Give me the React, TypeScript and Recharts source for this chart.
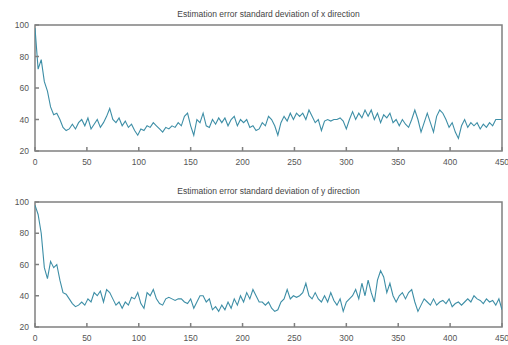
import { LineChart, Line, XAxis, YAxis, ReferenceArea } from "recharts";

const STEP = 3;
const X_TICKS = [0, 50, 100, 150, 200, 250, 300, 350, 400, 450];
const Y_TICKS = [20, 40, 60, 80, 100];

const TITLE_X = "Estimation error standard deviation of x direction";
const TITLE_Y = "Estimation error standard deviation of y direction";

// one value every 3 samples
const errX = [
  98, 72, 78, 64, 58, 48, 43, 44, 40, 35,
  33, 34, 37, 34, 38, 40, 36, 41, 34, 37,
  40, 35, 38, 42, 47, 40, 38, 41, 36, 39,
  35, 37, 33, 30, 34, 33, 36, 35, 38, 36,
  34, 32, 35, 34, 36, 35, 38, 36, 42, 44,
  36, 30, 40, 38, 44, 36, 35, 40, 37, 41,
  38, 41, 36, 40, 42, 36, 40, 38, 40, 35,
  36, 33, 34, 38, 36, 42, 40, 36, 30, 38,
  42, 39, 44, 40, 44, 42, 44, 40, 46, 42,
  38, 40, 33, 39, 40, 39, 40, 40, 41, 39,
  34, 40, 45, 40, 44, 41, 46, 42, 46, 40,
  44, 38, 43, 41, 44, 38, 40, 36, 40, 37,
  35, 40, 46, 40, 32, 38, 44, 38, 32, 42,
  46, 44, 40, 35, 38, 32, 28, 36, 40, 35,
  38, 36, 38, 34, 37, 35, 38, 36, 40, 40,
  40,
];

const errY = [
  98, 92, 80, 58, 51, 62, 58, 60, 50, 42,
  41, 38, 35, 33, 34, 36, 34, 38, 36, 42,
  40, 43, 36, 44, 42, 38, 34, 36, 32, 36,
  34, 39, 38, 42, 35, 32, 42, 40, 44, 38,
  35, 34, 38, 39, 38, 37, 38, 38, 36, 35,
  38, 32, 36, 40, 40, 36, 38, 31, 33, 30,
  34, 31, 36, 32, 38, 34, 40, 36, 42, 38,
  44, 40, 36, 36, 34, 36, 32, 30, 31, 36,
  38, 44, 38, 40, 39, 40, 42, 48, 40, 38,
  42, 38, 36, 40, 36, 42, 37, 34, 38, 30,
  36, 38, 40, 44, 38, 48, 40, 50, 42, 36,
  50, 56, 52, 42, 48, 40, 36, 40, 42, 38,
  42, 44, 36, 30, 34, 38, 36, 34, 38, 34,
  36, 37, 35, 38, 33, 35, 36, 34, 36, 38,
  36, 40, 38, 37, 35, 38, 36, 37, 34, 38,
  31,
];

const toData = (vals: number[]) => vals.map((v, i) => ({ x: i * STEP, v }));

const AXIS = "#808080";
const TEXT = "#555";
const LINE = "#3d8ea6";
const FONT = "'Liberation Sans', Arial, sans-serif";
const TICK_W = 1.5;

const BottomTick = (p: any) => {
  const axisY = p.y - 8;
  return (
    <g>
      <line x1={p.x} x2={p.x} y1={axisY} y2={axisY - 4} stroke={AXIS} strokeWidth={TICK_W} />
      <text x={p.x} y={p.y} dy={6} textAnchor="middle" fontSize={8.5} fill={TEXT} fontFamily={FONT}>
        {p.payload.value}
      </text>
    </g>
  );
};

const TopTick = (p: any) => (
  <line x1={p.x} x2={p.x} y1={p.y} y2={p.y + 4} stroke={AXIS} strokeWidth={TICK_W} />
);

const LeftTick = (p: any) => {
  const axisX = p.x + 6;
  return (
    <g>
      <line x1={axisX} x2={axisX + 4} y1={p.y} y2={p.y} stroke={AXIS} strokeWidth={TICK_W} />
      <text x={p.x} y={p.y} dy={3} textAnchor="end" fontSize={8.5} fill={TEXT} fontFamily={FONT}>
        {p.payload.value}
      </text>
    </g>
  );
};

const RightTick = (p: any) => (
  <line x1={p.x - 4} x2={p.x} y1={p.y} y2={p.y} stroke={AXIS} strokeWidth={TICK_W} />
);

const PLOT_LEFT = 35;
const PLOT_W = 467;

const Panel = ({ title, vals, top, height, marginTop, xHeight }: any) => (
  <div style={{ position: "absolute", left: 0, top, width: 508, height }}>
    <div
      style={{
        position: "absolute",
        left: PLOT_LEFT,
        width: PLOT_W,
        top: marginTop - 16,
        textAlign: "center",
        fontFamily: FONT,
        fontSize: 8.5,
        color: "#444",
      }}
    >
      {title}
    </div>
    <LineChart
      width={508}
      height={height}
      data={toData(vals)}
      margin={{ top: marginTop, right: 6, left: 0, bottom: 0 }}
    >
      <XAxis
        xAxisId="b"
        dataKey="x"
        type="number"
        domain={[0, 450]}
        ticks={X_TICKS}
        height={xHeight}
        tickSize={0}
        tickMargin={8}
        axisLine={false}
        tick={<BottomTick />}
        interval={0}
        allowDataOverflow
      />
      <XAxis
        xAxisId="t"
        orientation="top"
        dataKey="x"
        type="number"
        domain={[0, 450]}
        ticks={X_TICKS}
        height={0}
        tickSize={0}
        tickMargin={0}
        axisLine={false}
        tick={<TopTick />}
        interval={0}
      />
      <YAxis
        yAxisId="l"
        domain={[20, 100]}
        ticks={Y_TICKS}
        width={PLOT_LEFT}
        tickSize={0}
        tickMargin={6}
        axisLine={false}
        tick={<LeftTick />}
        interval={0}
        allowDataOverflow
      />
      <YAxis
        yAxisId="r"
        orientation="right"
        domain={[20, 100]}
        ticks={Y_TICKS}
        width={0}
        tickSize={0}
        tickMargin={0}
        axisLine={false}
        tick={<RightTick />}
        interval={0}
      />
      <ReferenceArea
        xAxisId="b"
        yAxisId="l"
        x1={0}
        x2={450}
        y1={20}
        y2={100}
        fill="none"
        fillOpacity={0}
        stroke={AXIS}
        strokeWidth={1.5}
        strokeOpacity={1}
        ifOverflow="visible"
      />
      <Line
        xAxisId="b"
        yAxisId="l"
        dataKey="v"
        stroke={LINE}
        strokeWidth={1.1}
        dot={false}
        isAnimationActive={false}
      />
    </LineChart>
  </div>
);

export default function App() {
  return (
    <div style={{ position: "absolute", left: 0, top: 0, width: 508, height: 345, background: "#fff" }}>
      <Panel title={TITLE_X} vals={errX} top={0} height={172} marginTop={25} xHeight={21} />
      <Panel title={TITLE_Y} vals={errY} top={172} height={173} marginTop={30} xHeight={18} />
    </div>
  );
}
